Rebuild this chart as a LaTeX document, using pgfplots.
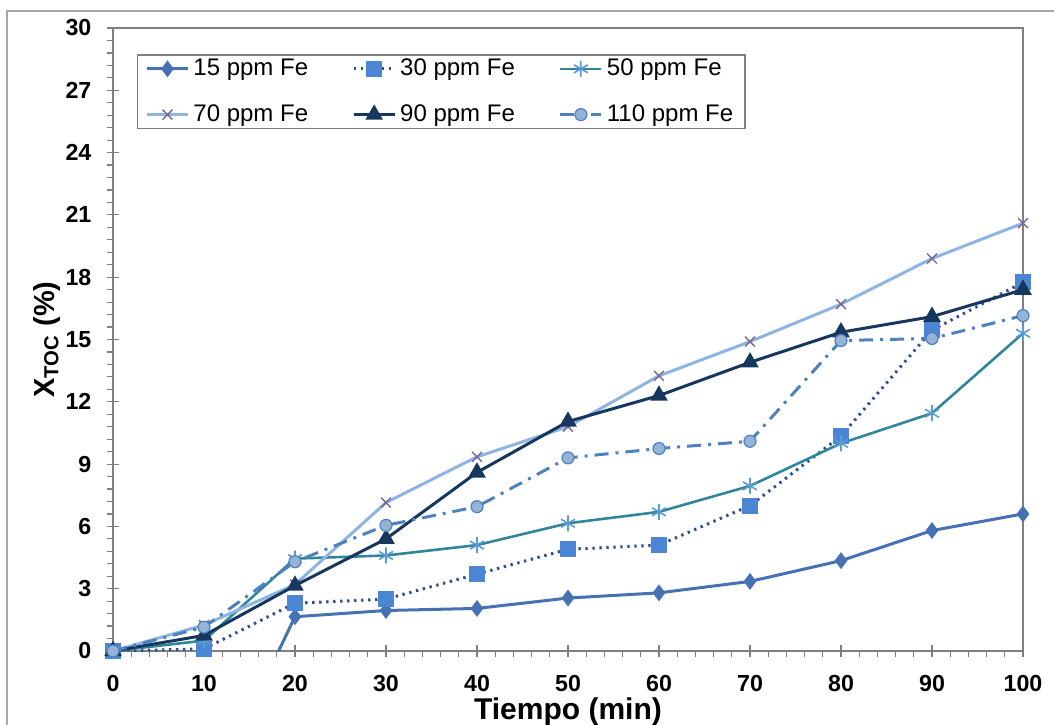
\documentclass[border=0pt]{standalone}
\usepackage{fontspec}
\setmainfont{Liberation Sans}
\usepackage{pgfplots}
\pgfplotsset{compat=1.18}

\definecolor{cA}{HTML}{4672B4}
\definecolor{cBm}{HTML}{4A86D4}
\definecolor{cBl}{HTML}{34508A}
\definecolor{cC}{HTML}{31869B}
\definecolor{cCm}{HTML}{5B9BD5}
\definecolor{cD}{HTML}{8DB4E2}
\definecolor{cDm}{HTML}{7B6592}
\definecolor{cE}{HTML}{17375E}
\definecolor{cF}{HTML}{4F81BD}
\definecolor{cFm}{HTML}{95B3D7}
\definecolor{frame}{HTML}{A6A6A6}
\definecolor{axgray}{HTML}{7F7F7F}

\begin{document}
\begin{tikzpicture}
\useasboundingbox (-56.5pt,-36.5pt) rectangle (470.5pt,325.5pt);
\draw[frame,line width=0.9pt] (-53pt,-60pt) |- (500pt,320pt);
\begin{axis}[
    scale only axis,
    width=455pt, height=311.5pt,
    xmin=0, xmax=100, ymin=0, ymax=30,
    xtick={0,10,...,100},
    ytick={0,3,...,30},
    minor x tick num=4,
    minor y tick num=4,
    xtick pos=bottom, ytick pos=left,
    tick align=outside,
    major tick length=6.3pt,
    minor tick length=3pt,
    major x tick style={yshift=3.15pt},
    major y tick style={xshift=3.15pt},
    tick style={axgray, line width=0.6pt},
    axis line style={axgray, line width=0.9pt},
    /pgf/number format/assume math mode=true,
    ticklabel style={font=\bfseries\fontsize{11.6}{13}\selectfont},
    xticklabel style={anchor=north, yshift=-2.5pt},
    yticklabel style={anchor=east, xshift=-1pt},
    xlabel={\textbf{Tiempo (min)}},
    ylabel={\textbf{X\textsubscript{TOC} (\%)}},
    every axis x label/.style={at={(axis description cs:0.5,-0.098)},anchor=center,font=\fontsize{15}{18}\selectfont},
    every axis y label/.style={at={(axis description cs:-0.073,0.5)},anchor=center,rotate=90,font=\fontsize{14.5}{17}\selectfont},
    legend columns=3,
    legend style={at={(0.026,0.958)}, anchor=north west, draw=axgray, line width=0.8pt,
        font=\fontsize{12}{14}\selectfont, inner xsep=4pt, inner ysep=0pt,
        row sep=9pt,
        /tikz/every even column/.append style={column sep=20pt}},
    legend image code/.code={
        \draw[mark repeat=2,mark phase=2,#1] plot coordinates {(0pt,0pt) (10.25pt,0pt) (20.5pt,0pt)};
    },
    legend cell align=left,
]
\addplot[cA, line width=1.5pt, mark=diamond*, mark size=3pt, mark options={solid, fill=cA}]
coordinates {(0,0) (10,-7.5) (20,1.65) (30,1.95) (40,2.05) (50,2.55) (60,2.8) (70,3.35) (80,4.35) (90,5.8) (100,6.6)};
\addlegendentry{15 ppm Fe}
\addplot[cBl, line width=1.5pt, dash pattern=on 1.2pt off 2.3pt, mark=square*, mark size=3.3pt, mark options={solid, draw=cBm, fill=cBm}]
coordinates {(0,0) (10,0.1) (20,2.3) (30,2.5) (40,3.7) (50,4.9) (60,5.1) (70,7.0) (80,10.35) (90,15.45) (100,17.75)};
\addlegendentry{30 ppm Fe}
\addplot[cC, line width=1.3pt, mark=asterisk, mark size=4pt, mark options={solid, draw=cCm, line width=0.8pt}]
coordinates {(0,0) (10,0.5) (20,4.45) (30,4.6) (40,5.1) (50,6.15) (60,6.7) (70,7.95) (80,10.0) (90,11.45) (100,15.3)};
\addlegendentry{50 ppm Fe}
\addplot[cD, line width=1.5pt, mark=x, mark size=3.5pt, mark options={solid, draw=cDm, line width=0.7pt}]
coordinates {(0,0) (10,1.25) (20,3.2) (30,7.15) (40,9.35) (50,10.8) (60,13.25) (70,14.9) (80,16.7) (90,18.9) (100,20.6)};
\addlegendentry{70 ppm Fe}
\addplot[cE, line width=1.5pt, mark=triangle*, mark size=3.6pt, mark options={solid, fill=cE}]
coordinates {(0,0) (10,0.75) (20,3.15) (30,5.4) (40,8.6) (50,11.05) (60,12.3) (70,13.9) (80,15.35) (90,16.1) (100,17.4)};
\addlegendentry{90 ppm Fe}
\addplot[cF, line width=1.5pt, dash pattern=on 7pt off 3.5pt on 1.5pt off 3.5pt, mark=*, mark size=3pt, mark options={solid, draw=cF, fill=cFm, line width=0.6pt}]
coordinates {(0,0) (10,1.15) (20,4.3) (30,6.05) (40,6.95) (50,9.3) (60,9.75) (70,10.1) (80,14.95) (90,15.05) (100,16.15)};
\addlegendentry{110 ppm Fe}
\end{axis}
\end{tikzpicture}
\end{document}
